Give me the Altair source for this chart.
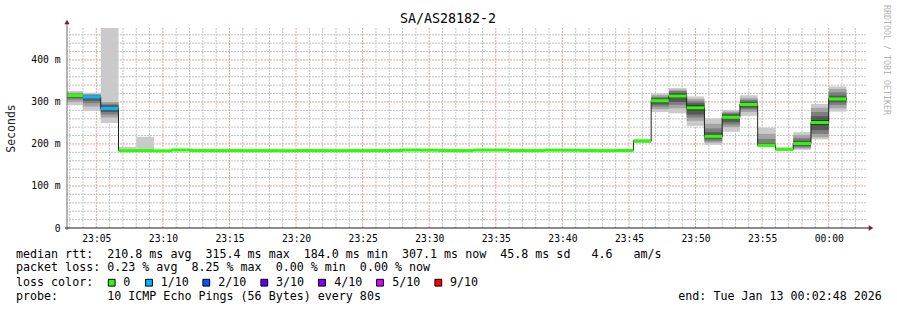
import json
import altair as alt
import pandas as pd

# ---------------- data ----------------
BIN_START = 2 + 40 / 60          # first 80 s bin starts 23:02:40 (minutes after 23:00)
BIN_LEN = 80 / 60

medians = [315.4, 312.0, 284.5, 184.0, 184.2, 183.6, 185.8, 184.3, 184.2, 184.3,
           184.1, 184.2, 184.0, 184.3, 184.2, 184.1, 184.3, 184.2, 184.4, 185.6,
           185.2, 184.3, 184.2, 185.4, 185.5, 184.3, 184.2, 185.2, 185.0, 184.3,
           184.2, 184.4, 207.0, 303.0, 314.0, 286.0, 218.0, 263.5, 294.0, 197.0,
           187.2, 201.0, 251.0, 307.1]
loss = [0, 1, 1] + [0] * 41

pings = {
    0: [292, 300, 306, 310, 314, 316.8, 318, 320, 322, 326],
    1: [279, 289, 297, 303, 311, 313, 315, 317, 319, 322],
    2: [250, 263, 270, 276, 282, 287, 292, 296, 300, 476],
    3: [183.5, 183.8, 184, 184, 184, 184.2, 184.4, 184.6, 185, 193],
    4: [183.6, 183.8, 184, 184, 184.1, 184.3, 184.5, 184.8, 185.5, 217],
    32: [202, 204, 205, 206, 206.5, 207.5, 208, 209, 210, 211],
    33: [276, 283, 289, 294, 300, 306, 309, 312, 316, 320],
    34: [273, 285, 293, 300, 310, 318, 322, 326, 329, 333],
    35: [243, 255, 263, 270, 280, 292, 297, 302, 307, 313],
    36: [198, 203, 207, 212, 216, 220, 228, 237, 248, 261],
    37: [229, 240, 246, 252, 260, 267, 271, 274, 277, 281],
    38: [267, 276, 282, 286, 291, 297, 301, 305, 309, 316],
    39: [192, 194, 195, 196, 196.5, 197.5, 202, 212, 224, 239],
    40: [184, 185, 186, 186.5, 187, 187.5, 188, 189, 190, 192],
    41: [186, 189, 192, 195, 199, 203, 208, 214, 221, 228],
    42: [211, 216, 224, 233, 245, 257, 266, 276, 286, 295],
    43: [277, 285, 293, 299, 305, 309.2, 315, 323, 331, 337],
}

loss_labels = ["0", "1/10", "2/10", "3/10", "4/10", "5/10", "9/10"]
loss_colors = ["#26ff00", "#00b8ff", "#0059ff", "#5e00ff", "#7e00ff", "#dd00ff", "#ff0000"]
smoke_colors = ["#cacaca", "#a4a4a4", "#7e7e7e", "#585858", "#323232"]

x_tick_values = [5, 10, 15, 20, 25, 30, 35, 40, 45, 50, 55, 60]
x_tick_labels = ["23:05", "23:10", "23:15", "23:20", "23:25", "23:30",
                 "23:35", "23:40", "23:45", "23:50", "23:55", "00:00"]
y_tick_values = [0, 100, 200, 300, 400]
y_tick_labels = ["0\u00a0\u00a0", "100 m", "200 m", "300 m", "400 m"]
x_minor = [m for m in range(3, 63) if m % 5 != 0]
y_minor = [v for v in range(20, 476, 20) if v % 100 != 0]
y_major = [100, 200, 300, 400]

title_text = "SA/AS28182-2"
legend_lines = [
    "median rtt:  210.8 ms avg  315.4 ms max  184.0 ms min  307.1 ms now  45.8 ms sd   4.6   am/s",
    "packet loss: 0.23 % avg  8.25 % max  0.00 % min  0.00 % now",
    "loss color:",
    "probe:       10 ICMP Echo Pings (56 Bytes) every 80s",
]
end_text = "end: Tue Jan 13 00:02:48 2026"
watermark = "RRDTOOL / TOBI OETIKER"

# ---------------- tables ----------------
W, H = 799, 200
FONT = "DejaVu Sans Mono"
NB = "\u00a0"
xs = alt.Scale(domain=[2.8, 62.8], nice=False, zero=False)
ys = alt.Scale(domain=[0, 476], nice=False)

starts = [BIN_START + k * BIN_LEN for k in range(len(medians))]
med_df = pd.DataFrame({
    "start": starts,
    "end": [s + BIN_LEN for s in starts],
    "median": medians,
    "col": [loss_colors[l] for l in loss],
})
line_df = pd.DataFrame({
    "t": starts + [starts[-1] + BIN_LEN],
    "median": medians + [medians[-1]],
})
smoke_rows = []
for band in range(5):
    for k, p in pings.items():
        smoke_rows.append({"start": starts[k], "end": starts[k] + BIN_LEN,
                           "lo": p[band], "hi": p[9 - band], "band": band})
smoke_df = pd.DataFrame(smoke_rows)

xlabel_expr = "%s[indexof(%s, datum.value)]" % (json.dumps(x_tick_labels), json.dumps(x_tick_values))
ylabel_expr = "%s[indexof(%s, datum.value)]" % (json.dumps(y_tick_labels, ensure_ascii=False),
                                                json.dumps(y_tick_values))

XAXIS = alt.Axis(values=x_tick_values, labelExpr=xlabel_expr, grid=False, domain=False, ticks=False,
                 labelFont=FONT, labelFontSize=9.7, labelColor="#000", labelPadding=5, title=None)
YAXIS = alt.Axis(values=y_tick_values, labelExpr=ylabel_expr, grid=False, domain=False, ticks=False,
                 labelFont=FONT, labelFontSize=9.7, labelColor="#000", labelPadding=7,
                 title="Seconds", titleFont=FONT, titleFontSize=11.5, titleFontWeight="normal",
                 titleColor="#222", titleX=-56, titleY=H / 2, titleAngle=270,
                 titleBaseline="middle", titleAlign="center")

# ---------------- layers ----------------
grid_gray = "#c4c4c4"
grid_red = "#f0a0a0"
dash = [2, 1]

xgrid_minor = alt.Chart(pd.DataFrame({"x": x_minor})).mark_rule(
    color=grid_gray, strokeDash=dash, strokeWidth=1).encode(
    x=alt.X("x:Q", scale=xs, axis=XAXIS))
ygrid_minor = alt.Chart(pd.DataFrame({"y": y_minor})).mark_rule(
    color=grid_gray, strokeDash=dash, strokeWidth=1).encode(
    y=alt.Y("y:Q", scale=ys, axis=YAXIS))
xgrid_major = alt.Chart(pd.DataFrame({"x": x_tick_values})).mark_rule(
    color=grid_red, strokeDash=dash, strokeWidth=1).encode(
    x=alt.X("x:Q", scale=xs, axis=XAXIS))
ygrid_major = alt.Chart(pd.DataFrame({"y": y_major})).mark_rule(
    color=grid_red, strokeDash=dash, strokeWidth=1).encode(
    y=alt.Y("y:Q", scale=ys, axis=YAXIS))

smoke = alt.Chart(smoke_df).mark_rect(clip=True).encode(
    x=alt.X("start:Q", scale=xs, axis=XAXIS), x2="end:Q",
    y=alt.Y("lo:Q", scale=ys, axis=YAXIS), y2="hi:Q",
    color=alt.Color("band:O", scale=alt.Scale(domain=[0, 1, 2, 3, 4], range=smoke_colors), legend=None))

step = alt.Chart(line_df).mark_line(interpolate="step-after", color="#202020", strokeWidth=1,
                                    clip=True).encode(
    x=alt.X("t:Q", scale=xs, axis=XAXIS), y=alt.Y("median:Q", scale=ys, axis=YAXIS))

med = alt.Chart(med_df).mark_rule(strokeWidth=3, clip=True).encode(
    x=alt.X("start:Q", scale=xs, axis=XAXIS), x2="end:Q",
    y=alt.Y("median:Q", scale=ys, axis=YAXIS),
    color=alt.Color("col:N", scale=None))

# axis lines and arrows (decoration)
yaxis_line = alt.Chart().mark_rule(color="#6a6a6a", strokeWidth=1).encode(
    x=alt.value(0), y=alt.value(-5), y2=alt.value(H + 2))
xaxis_line = alt.Chart().mark_rule(color="#1a1a1a", strokeWidth=1).encode(
    x=alt.value(-2), x2=alt.value(W + 4), y=alt.value(H))
arrow_up = alt.Chart().mark_point(shape="triangle-up", filled=True, color="#8b1a1a",
                                  size=28, opacity=1).encode(x=alt.value(0), y=alt.value(-6))
arrow_right = alt.Chart().mark_point(shape="triangle-right", filled=True, color="#8b1a1a",
                                     size=28, opacity=1).encode(x=alt.value(W + 5), y=alt.value(H))

# texts
def txt(text, x, y, size=11.66, color="#000", align="left", angle=0):
    return alt.Chart(pd.DataFrame({"t": [text.replace(" ", NB)]})).mark_text(
        font=FONT, fontSize=size, color=color, align=align, baseline="middle",
        angle=angle).encode(text="t:N", x=alt.value(x), y=alt.value(y))

title = txt(title_text, 448 - 67, 19 - 28, size=13.3, align="center")
wm = txt(watermark, 886 - 67, 60 - 28, size=8.3, color="#b4b4b4", align="center", angle=90)
legend_y = [255 - 28, 268.3 - 28, 282.7 - 28, 296.7 - 28]
leg = [txt(s, 16 - 67, y) for s, y in zip(legend_lines, legend_y)]
endt = txt(end_text, 678.3 - 67, legend_y[3])

sq_x = [111.7, 149.0, 206.3, 264.3, 322.0, 380.0, 438.3]
lab_x = [123.3, 160.7, 218.3, 276.0, 334.3, 392.3, 450.0]
sq_df = pd.DataFrame({"px": [v - 67 for v in sq_x], "py": [legend_y[2]] * 7, "col": loss_colors})
squares = alt.Chart(sq_df).mark_square(size=46, stroke="#000", strokeWidth=1, opacity=1).encode(
    x=alt.X("px:Q", scale=None), y=alt.Y("py:Q", scale=None),
    fill=alt.Fill("col:N", scale=None))
lab_df = pd.DataFrame({"px": [v - 67 for v in lab_x], "py": [legend_y[2]] * 7, "t": loss_labels})
sq_labels = alt.Chart(lab_df).mark_text(font=FONT, fontSize=11.66, color="#000", align="left",
                                        baseline="middle").encode(
    x=alt.X("px:Q", scale=None), y=alt.Y("py:Q", scale=None), text="t:N")

chart = alt.layer(
    xgrid_minor, ygrid_minor, xgrid_major, ygrid_major,
    smoke, step, med,
    yaxis_line, xaxis_line, arrow_up, arrow_right,
    title, wm, *leg, endt, squares, sq_labels,
).properties(
    width=W, height=H,
    autosize=alt.AutoSizeParams(type="none"),
    padding={"left": 67, "top": 28, "right": 31, "bottom": 82},
    background="#ffffff",
).configure_view(stroke=None)

chart.save("out.html", embed_options={"renderer": "svg", "actions": False})
